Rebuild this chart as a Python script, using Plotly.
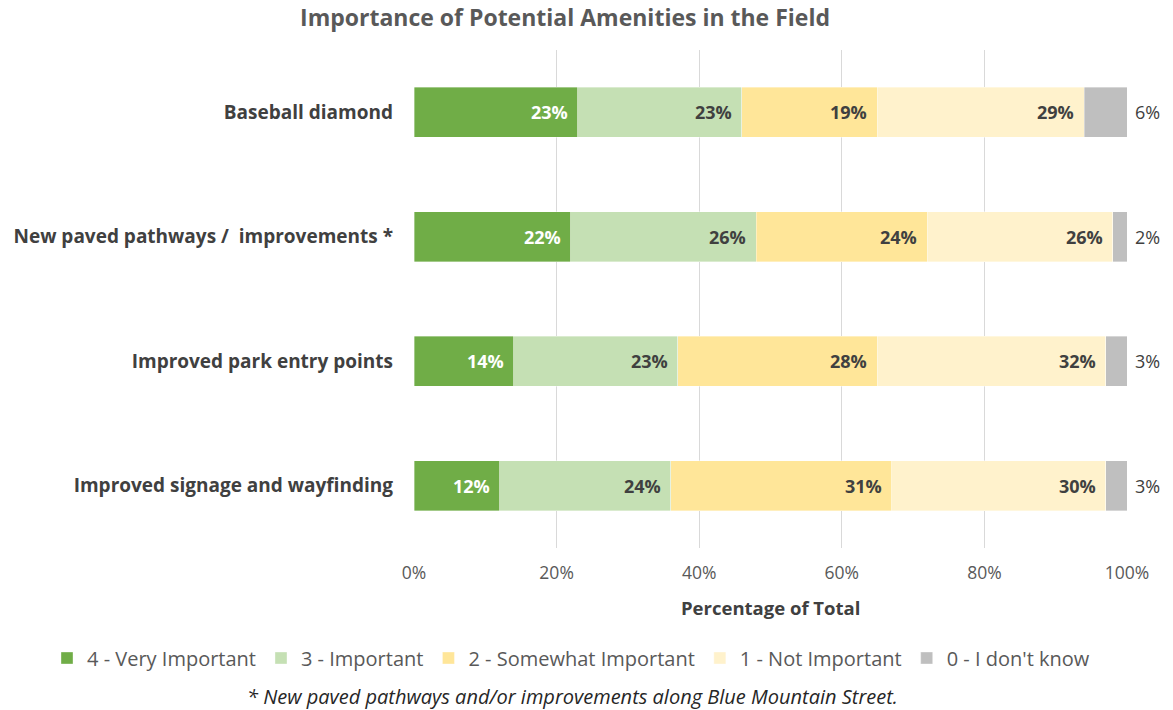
import plotly.graph_objects as go
import numpy as np

# Survey responses, percent of respondents per amenity
categories = [
    "Baseball diamond",
    "New paved pathways /  improvements *",
    "Improved park entry points",
    "Improved signage and wayfinding",
]
series_names = [
    "4 - Very Important",
    "3 - Important",
    "2 - Somewhat Important",
    "1 - Not Important",
    "0 - I don't know",
]
very_important = [23, 22, 14, 12]
important = [23, 26, 23, 24]
somewhat_important = [19, 24, 28, 31]
not_important = [29, 26, 32, 30]
dont_know = [6, 2, 3, 3]

tick_values = [0, 20, 40, 60, 80, 100]
tick_labels = ["0%", "20%", "40%", "60%", "80%", "100%"]

series_values = [very_important, important, somewhat_important, not_important, dont_know]
colors = ["#70AD47", "#C5E0B4", "#FFE699", "#FFF2CC", "#BFBFBF"]
label_colors = ["#FFFFFF", "#404040", "#404040", "#404040", "#404040"]

FONT = "Open Sans"
W, H = 1173, 710
M_L, M_R, M_T, M_B = 414, 46, 50, 162
plot_w = W - M_L - M_R
plot_h = H - M_T - M_B
plot_bottom = H - M_B

fig = go.Figure()
for name, vals, col in zip(series_names, series_values, colors):
    fig.add_trace(go.Bar(
        y=categories, x=vals, name=name, orientation="h",
        marker=dict(color=col, line=dict(color="rgba(255,255,255,0.6)", width=0.6)),
        hoverinfo="x+y+name",
    ))

# value labels: right-aligned inside each segment, "don't know" outside the bar
annotations = []
cum = np.zeros(len(categories))
for i, (vals, lc) in enumerate(zip(series_values, label_colors)):
    cum = cum + np.array(vals)
    for cat, v, end in zip(categories, vals, cum):
        if i < len(series_values) - 1:
            annotations.append(dict(
                x=end, y=cat, xref="x", yref="y", text=f"{v}%",
                xanchor="right", yanchor="middle", xshift=-8, showarrow=False,
                font=dict(family=FONT, size=18, color=lc, weight="bold"),
            ))
        else:
            annotations.append(dict(
                x=end, y=cat, xref="x", yref="y", text=f"{v}%",
                xanchor="left", yanchor="middle", xshift=6, showarrow=False,
                font=dict(family=FONT, size=18, color="#404040"),
            ))

# axis title
annotations.append(dict(
    x=0.5, y=-59 / plot_h, xref="paper", yref="paper", text="Percentage of Total",
    xanchor="center", yanchor="middle", showarrow=False,
    font=dict(family=FONT, size=18.5, color="#404040", weight="bold"),
))
# footnote
annotations.append(dict(
    x=(572 - M_L) / plot_w, y=-(696 - plot_bottom) / plot_h,
    xref="paper", yref="paper",
    text="<i>* New paved pathways and/or improvements along Blue Mountain Street.</i>",
    xanchor="center", yanchor="middle", showarrow=False,
    font=dict(family=FONT, size=20, color="#262626"),
))

fig.update_layout(
    width=W, height=H,
    margin=dict(l=M_L, r=M_R, t=M_T, b=M_B, pad=0),
    paper_bgcolor="white", plot_bgcolor="white",
    barmode="stack", bargap=0.6,
    font=dict(family=FONT, color="#595959"),
    title=dict(
        text="<b>Importance of Potential Amenities in the Field</b>",
        x=565 / W, xanchor="center", xref="container",
        y=1 - 18 / H, yanchor="middle", yref="container",
        font=dict(family=FONT, size=23, color="#595959"),
    ),
    xaxis=dict(
        range=[0, 100], tickvals=tick_values, ticktext=tick_labels,
        showgrid=True, gridcolor="#D9D9D9", gridwidth=1,
        zeroline=False, showline=False, ticks="",
        ticklabelstandoff=12,
        tickfont=dict(family=FONT, size=17.5, color="#595959"),
        fixedrange=True,
    ),
    yaxis=dict(
        categoryorder="array", categoryarray=categories, autorange="reversed",
        showgrid=False, zeroline=False, showline=False, ticks="",
        ticklabelstandoff=20,
        tickfont=dict(family=FONT, size=19, color="#404040", weight="bold"),
        fixedrange=True,
    ),
    legend=dict(
        orientation="h",
        x=(47 - M_L) / plot_w, xanchor="left", xref="paper",
        y=-(658 - plot_bottom) / plot_h, yanchor="middle", yref="paper",
        font=dict(family=FONT, size=20, color="#595959"),
        traceorder="normal", itemwidth=30,
        bgcolor="rgba(0,0,0,0)",
    ),
    annotations=annotations,
    showlegend=True,
)

fig.write_html("out.html")
